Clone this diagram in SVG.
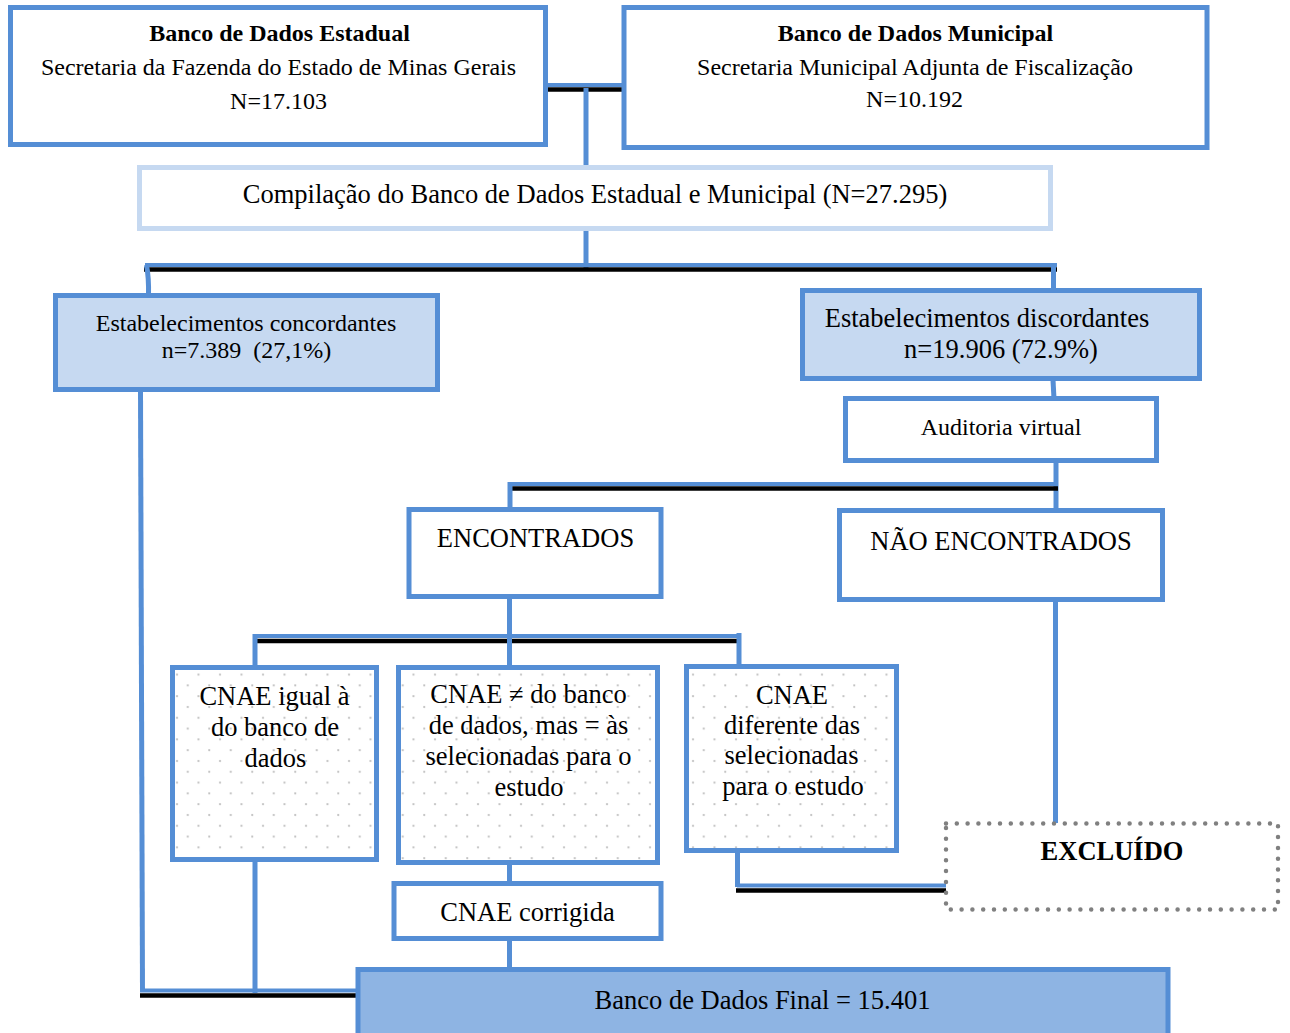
<svg xmlns="http://www.w3.org/2000/svg" width="1290" height="1033" viewBox="0 0 1290 1033">
<defs>
<pattern id="dots" x="0" y="0" width="21.5" height="21.6" patternUnits="userSpaceOnUse">
<rect width="21.5" height="21.6" fill="#ffffff"/>
<circle cx="5" cy="5" r="1.1" fill="#bdbdbd"/>
<circle cx="15.75" cy="15.8" r="1.1" fill="#bdbdbd"/>
</pattern>
</defs>
<style>
.box{fill:#ffffff;stroke:#558ED5;stroke-width:5}
.light{fill:#C6D9F1;stroke:#558ED5;stroke-width:5}
.dotted{fill:url(#dots);stroke:#558ED5;stroke-width:5}
.final{fill:#8EB4E3;stroke:#558ED5;stroke-width:5}
.comp{fill:#ffffff;stroke:#C6D9F1;stroke-width:5}
.excl{fill:#ffffff;stroke:#808080;stroke-width:4.5;stroke-dasharray:0 10.8;stroke-linecap:round}
.t{font-family:"Liberation Serif","Times New Roman",serif;font-size:26.5px;fill:#000;text-anchor:middle}
.s24{font-size:24px}
.b{font-weight:bold}
.bl{stroke:#558ED5;stroke-width:4;fill:none}
.bv{stroke:#558ED5;stroke-width:5;fill:none}
.bk{stroke:#000000;stroke-width:4.5;fill:none}
</style>
<g id="connectors">
<line class="bk" x1="548" y1="89.5" x2="622" y2="89.5"/>
<line class="bl" x1="548" y1="85" x2="622" y2="85"/>
<line class="bv" x1="586" y1="88" x2="586" y2="166"/>
<line class="bv" x1="586" y1="230" x2="586" y2="270"/>
<line class="bk" x1="144" y1="269.5" x2="1057" y2="269.5"/>
<line class="bl" x1="145" y1="265" x2="1057" y2="265"/>
<path class="bv" d="M146.5,265 Q149,278 148.5,296"/>
<line class="bv" x1="1053.5" y1="266" x2="1053.5" y2="290"/>
<line class="bv" x1="1053" y1="380" x2="1054" y2="399"/>
<line class="bv" x1="1056" y1="462" x2="1056" y2="511"/>
<line class="bk" x1="508" y1="488.5" x2="1058" y2="488.5"/>
<line class="bl" x1="508" y1="484" x2="1058" y2="484"/>
<line class="bv" x1="510" y1="482" x2="510" y2="509"/>
<line class="bv" x1="1055.5" y1="601" x2="1055.5" y2="823"/>
<line class="bv" x1="509.5" y1="598" x2="509.5" y2="638"/>
<line class="bk" x1="253" y1="641" x2="741" y2="641"/>
<line class="bl" x1="253" y1="636" x2="741" y2="636"/>
<line class="bv" x1="255" y1="634" x2="255" y2="667"/>
<line class="bv" x1="509.5" y1="636" x2="509.5" y2="667"/>
<line class="bv" x1="739" y1="633" x2="739" y2="666"/>
<line class="bv" x1="737.5" y1="852" x2="737.5" y2="887"/>
<line class="bk" x1="736" y1="890.5" x2="946" y2="890.5"/>
<line class="bl" x1="737" y1="885.5" x2="946" y2="885.5"/>
<line class="bv" x1="509.5" y1="864" x2="509.5" y2="884"/>
<line class="bv" x1="509.5" y1="940" x2="509.5" y2="969"/>
<line class="bv" x1="140.5" y1="390" x2="142.5" y2="992"/>
<line class="bv" x1="255" y1="860" x2="255" y2="993"/>
<line class="bk" x1="140" y1="995.5" x2="358" y2="995.5"/>
<line class="bl" x1="140" y1="990.5" x2="358" y2="990.5"/>
</g>
<g id="estadual">
<rect class="box" x="10.5" y="7.5" width="535" height="137"/>
<text class="t s24 b" x="279.5" y="41">Banco de Dados Estadual</text>
<text class="t s24" x="278.5" y="75">Secretaria da Fazenda do Estado de Minas Gerais</text>
<text class="t s24" x="278.5" y="109">N=17.103</text>
</g>
<g id="municipal">
<rect class="box" x="624" y="7.5" width="583" height="140"/>
<text class="t s24 b" x="915.5" y="41">Banco de Dados Municipal</text>
<text class="t s24" x="915" y="75">Secretaria Municipal Adjunta de Fiscalização</text>
<text class="t s24" x="914.5" y="107">N=10.192</text>
</g>
<g id="compilacao">
<rect class="comp" x="139.5" y="167.5" width="911" height="61"/>
<text class="t" x="595" y="203">Compilação do Banco de Dados Estadual e Municipal (N=27.295)</text>
</g>
<g id="concordantes">
<rect class="light" x="55.5" y="295.5" width="382" height="94"/>
<text class="t s24" x="246" y="331">Estabelecimentos concordantes</text>
<text class="t s24" x="246.5" y="358">n=7.389&#160; (27,1%)</text>
</g>
<g id="discordantes">
<rect class="light" x="802.5" y="290.5" width="397" height="88"/>
<text class="t" x="987" y="327">Estabelecimentos discordantes</text>
<text class="t" x="1001" y="358">n=19.906 (72.9%)</text>
</g>
<g id="auditoria">
<rect class="box" x="845.5" y="398.5" width="311" height="62"/>
<text class="t s24" x="1001" y="435">Auditoria virtual</text>
</g>
<g id="encontrados">
<rect class="box" x="409" y="509.5" width="252" height="87"/>
<text class="t" x="535.5" y="547">ENCONTRADOS</text>
</g>
<g id="nao-encontrados">
<rect class="box" x="839.5" y="510.5" width="323" height="89"/>
<text class="t" x="1001" y="550">NÃO ENCONTRADOS</text>
</g>
<g id="cnae-igual">
<rect class="dotted" x="172.5" y="667.5" width="204" height="192"/>
<text class="t" x="274.5" y="705">CNAE igual à</text>
<text class="t" x="275" y="736">do banco de</text>
<text class="t" x="275.5" y="767">dados</text>
</g>
<g id="cnae-diferente-banco">
<rect class="dotted" x="398.5" y="667.5" width="259" height="195"/>
<text class="t" x="528.5" y="703">CNAE ≠ do banco</text>
<text class="t" x="528.5" y="734">de dados, mas = às</text>
<text class="t" x="528.5" y="765">selecionadas para o</text>
<text class="t" x="529" y="796">estudo</text>
</g>
<g id="cnae-diferente-selecionadas">
<rect class="dotted" x="686.5" y="666.5" width="210" height="184"/>
<text class="t" x="792" y="704">CNAE</text>
<text class="t" x="792" y="734">diferente das</text>
<text class="t" x="791.5" y="764">selecionadas</text>
<text class="t" x="793" y="795">para o estudo</text>
</g>
<g id="excluido">
<rect class="excl" x="946" y="823.5" width="332" height="86"/>
<text class="t b" x="1112" y="860">EXCLUÍDO</text>
</g>
<g id="cnae-corrigida">
<rect class="box" x="394" y="883.5" width="267" height="55"/>
<text class="t" x="527.5" y="921">CNAE corrigida</text>
</g>
<g id="final">
<rect class="final" x="358" y="969.5" width="810" height="70"/>
<text class="t" x="762.5" y="1009">Banco de Dados Final = 15.401</text>
</g>
</svg>
